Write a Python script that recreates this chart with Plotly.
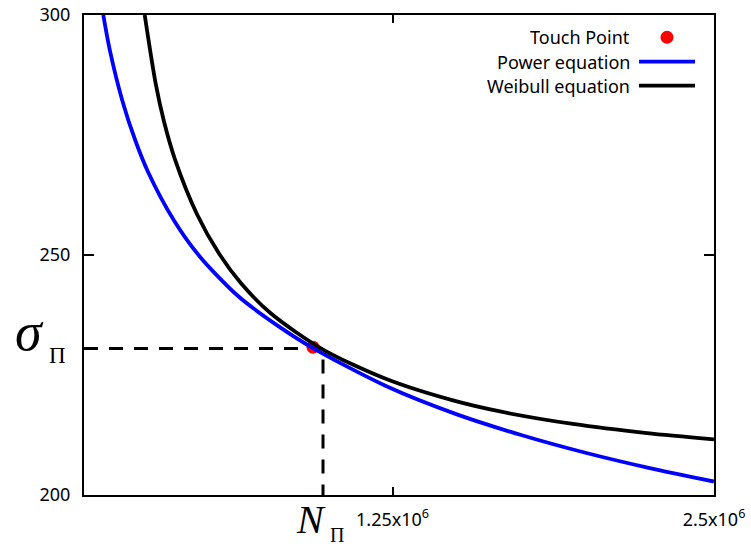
import plotly.graph_objects as go

# Cycles to failure N and stress amplitude sigma for the two fitted curves
N_power = [125000, 150000, 200000, 250000, 300000, 400000, 500000, 650000,
           800000, 940600, 1228300, 1500000, 1750000, 2000000, 2250000, 2500000]
S_power = [300.0, 292.8, 282.0, 273.8, 267.2, 257.2, 249.7, 241.4,
           235.4, 230.6, 222.6, 216.8, 212.5, 208.8, 205.6, 202.8]

N_weibull = [286100, 328800, 361100, 402700, 489500, 575000, 660600, 777200,
             979500, 1228300, 1485000, 1667800, 1951700, 2239500, 2500000]
S_weibull = [300.0, 285.7, 277.8, 270.1, 258.5, 250.3, 244.1, 237.8,
             230.3, 224.1, 219.7, 217.4, 214.8, 212.9, 211.6]

# Touch point of the two curves and the marked coordinates
touch_N = [940600]
touch_S = [230.8]
N_PI = 979500
SIGMA_PI = 230.5

x_range = [50000, 2500000]
y_range = [200, 300]
x_tickvals = [1250000, 2500000]
x_ticktext = ["1.25x10<sup>6</sup>", "2.5x10<sup>6</sup>"]
y_tickvals = [200, 250, 300]
y_ticktext = ["200", "250", "300"]

legend_labels = ["Touch Point", "Power equation", "Weibull equation"]

fig = go.Figure()

# dashed guide lines to the axes
fig.add_trace(go.Scatter(
    x=[x_range[0], N_PI, N_PI], y=[SIGMA_PI, SIGMA_PI, y_range[0]],
    mode="lines", line=dict(color="black", width=3, dash="14px,11px"),
    showlegend=False, hoverinfo="skip"))

fig.add_trace(go.Scatter(
    x=touch_N, y=touch_S, mode="markers",
    marker=dict(color="#ff0000", size=13), name=legend_labels[0],
    showlegend=False))

fig.add_trace(go.Scatter(
    x=N_power, y=S_power, mode="lines",
    line=dict(color="#0000ff", width=3.8, shape="spline", smoothing=0.8),
    name=legend_labels[1], showlegend=False))

fig.add_trace(go.Scatter(
    x=N_weibull, y=S_weibull, mode="lines",
    line=dict(color="black", width=3.8, shape="spline", smoothing=0.8),
    name=legend_labels[2], showlegend=False))

W, H = 751, 549
L, R, T, B = 84, 37, 15, 53.5
pw, ph = W - L - R, H - T - B


def px_x(p):
    return (p - L) / pw


def px_y(p):
    return (H - B - p) / ph


tick_font = dict(family="Noto Sans", size=18, color="black")

fig.update_layout(
    width=W, height=H,
    margin=dict(l=L, r=R, t=T, b=B, pad=0),
    paper_bgcolor="white", plot_bgcolor="white",
    showlegend=False,
    xaxis=dict(range=x_range, tickvals=x_tickvals, ticktext=x_ticktext,
               ticks="inside", ticklen=8, tickwidth=1.5, tickcolor="black",
               showline=True, linecolor="black", linewidth=2,
               mirror="allticks", showgrid=False, zeroline=False,
               automargin=False, ticklabelstandoff=7,
               tickfont=tick_font),
    yaxis=dict(range=y_range, tickvals=y_tickvals, ticktext=y_ticktext,
               ticks="inside", ticklen=10, tickwidth=1.5, tickcolor="black",
               showline=True, linecolor="black", linewidth=2,
               mirror="allticks", showgrid=False, zeroline=False,
               automargin=False, ticklabelstandoff=8,
               tickfont=tick_font),
)

# hand-built legend: right-aligned labels with samples on the right
leg_font = dict(family="Noto Sans", size=18, color="black")
leg_y = [37.0, 62.0, 86.0]
for lab, yy in zip(legend_labels, leg_y):
    fig.add_annotation(xref="paper", yref="paper", x=px_x(632), y=px_y(yy),
                       xanchor="right", yanchor="middle", text=lab,
                       showarrow=False, font=leg_font)

r = 6.5
fig.add_shape(type="circle", xref="paper", yref="paper",
              x0=px_x(667 - r), x1=px_x(667 + r),
              y0=px_y(37.3 + r), y1=px_y(37.3 - r),
              fillcolor="#ff0000", line=dict(width=0))
for yy, col in [(61.7, "#0000ff"), (85.7, "black")]:
    fig.add_shape(type="line", xref="paper", yref="paper",
                  x0=px_x(639), x1=px_x(695), y0=px_y(yy), y1=px_y(yy),
                  line=dict(color=col, width=3.8))

# axis symbols sigma_Pi and N_Pi
serif = "Liberation Serif"
fig.add_annotation(xref="paper", yref="paper", x=px_x(29), y=px_y(332),
                   xanchor="center", yanchor="middle", text="<i>σ</i>",
                   showarrow=False, font=dict(family=serif, size=54, color="black"))
fig.add_annotation(xref="paper", yref="paper", x=px_x(57), y=px_y(356),
                   xanchor="center", yanchor="middle", text="Π",
                   showarrow=False, font=dict(family=serif, size=23, color="black"))
fig.add_annotation(xref="paper", yref="paper", x=px_x(311), y=px_y(520),
                   xanchor="center", yanchor="middle", text="<i>N</i>",
                   showarrow=False, font=dict(family=serif, size=40, color="black"))
fig.add_annotation(xref="paper", yref="paper", x=px_x(337), y=px_y(536),
                   xanchor="center", yanchor="middle", text="Π",
                   showarrow=False, font=dict(family=serif, size=20, color="black"))

fig.write_html("out.html")
